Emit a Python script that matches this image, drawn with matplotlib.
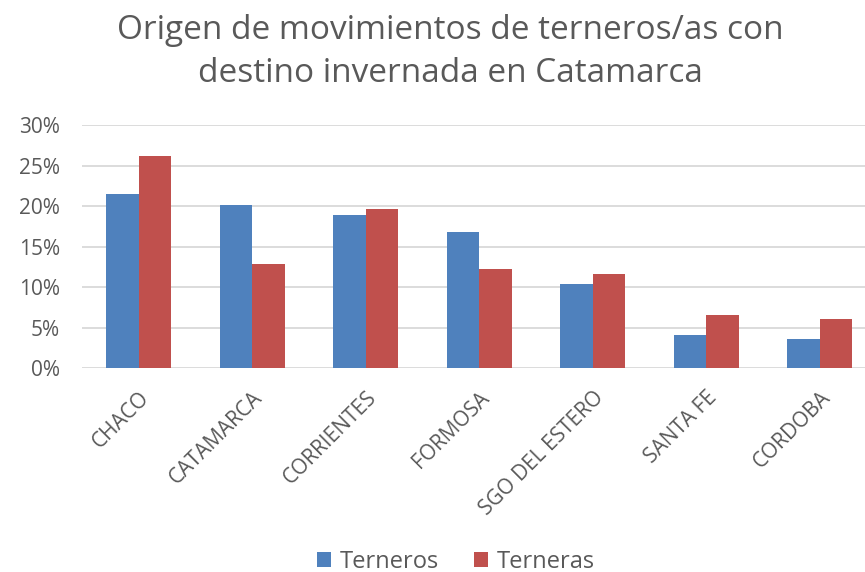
import numpy as np
import matplotlib.pyplot as plt
from matplotlib.ticker import PercentFormatter

provincias = ['CHACO', 'CATAMARCA', 'CORRIENTES', 'FORMOSA', 'SGO DEL ESTERO', 'SANTA FE', 'CORDOBA']
terneros = [0.215, 0.202, 0.189, 0.168, 0.104, 0.041, 0.036]
terneras = [0.262, 0.128, 0.196, 0.122, 0.116, 0.065, 0.060]

AZUL = '#4f81bd'
ROJO = '#c0504d'
GRIS = '#595959'

plt.rcParams['font.family'] = ['Open Sans', 'DejaVu Sans']

fig = plt.figure(figsize=(8.65, 5.72), dpi=100)
ax = fig.add_axes([0.0948, 0.3566, 0.9185, 0.4244])

x = np.arange(len(provincias))
w = 0.285
ax.bar(x - w/2, terneros, w, color=AZUL, label='Terneros', zorder=3)
ax.bar(x + w/2, terneras, w, color=ROJO, label='Terneras', zorder=3)

ax.set_xlim(-0.5, len(provincias) - 0.5)
ax.set_ylim(0, 0.30)
ax.set_yticks(np.arange(0, 0.31, 0.05))
ax.yaxis.set_major_formatter(PercentFormatter(1.0, decimals=0))
ax.grid(axis='y', color='#d9d9d9', linewidth=1.3, zorder=0)
for s in ax.spines.values():
    s.set_visible(False)
ax.tick_params(axis='both', length=0, labelsize=15, labelcolor=GRIS)
ax.tick_params(axis='y', pad=16)
ax.tick_params(axis='x', pad=14)
ax.set_xticks(x)
ax.set_xticklabels(provincias, rotation=45, ha='right', rotation_mode='anchor')

# chart area is wider than the picture, so centre sits right of the middle
fig.text(0.521, 0.975, 'Origen de movimientos de terneros/as con\ndestino invernada en Catamarca',
         ha='center', va='top', fontsize=24, color=GRIS, linespacing=1.38)

fig.legend(loc='lower center', bbox_to_anchor=(0.527, -0.04), ncol=2, frameon=False,
           fontsize=17, labelcolor=GRIS, handlelength=0.6, handleheight=0.6,
           handletextpad=0.35, columnspacing=1.5)

fig.savefig('out.png', dpi=100)
